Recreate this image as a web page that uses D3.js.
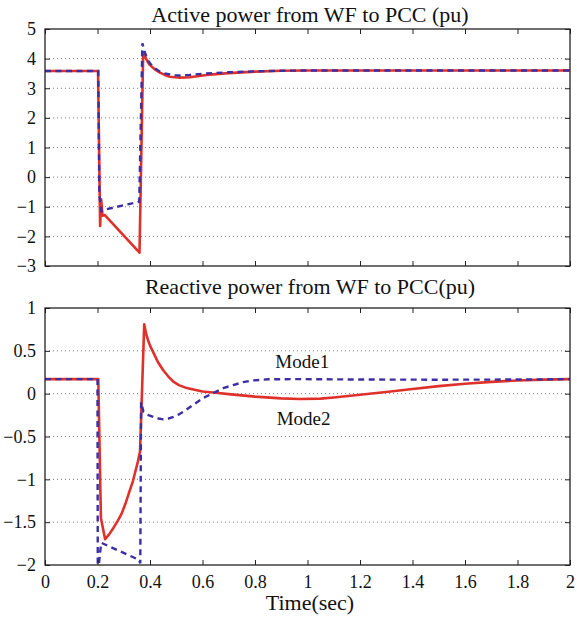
<!DOCTYPE html>
<html>
<head>
<meta charset="utf-8">
<script src="https://cdnjs.cloudflare.com/ajax/libs/d3/7.8.5/d3.min.js"></script>
<style>
  body { margin: 0; background: #fff; }
  svg text { font-family: "Liberation Serif", "Times New Roman", serif !important; fill: #111; }
  .grid line { stroke: #777; stroke-dasharray: 1 3; stroke-width: 1; }
</style>
</head>
<body>
<div id="chart"></div>
<script>
// time axis ticks and series (time in sec, value in pu)
const timeTicks = [0, 0.2, 0.4, 0.6, 0.8, 1, 1.2, 1.4, 1.6, 1.8, 2];

// Active power - Mode1 (blue dashed)
const pMode1T = [0, 0.2, 0.203, 0.207, 0.215, 0.225, 0.359, 0.371, 0.378, 0.385, 0.392, 0.4, 0.418, 0.438, 0.456, 0.476, 0.495, 0.514, 0.552, 0.616, 0.7, 0.8, 0.9, 1.0, 1.5, 2.0];
const pMode1V = [3.58, 3.58, 3.58, -0.6, -1.15, -1.1, -0.83, 4.52, 4.28, 4.1, 3.95, 3.84, 3.68, 3.56, 3.5, 3.47, 3.44, 3.43, 3.45, 3.5, 3.54, 3.57, 3.59, 3.6, 3.6, 3.6];

// Active power - Mode2 (red solid)
const pMode2T = [0, 0.2, 0.202, 0.21, 0.214, 0.219, 0.228, 0.36, 0.374, 0.38, 0.385, 0.392, 0.4, 0.418, 0.438, 0.456, 0.476, 0.495, 0.514, 0.552, 0.616, 0.7, 0.8, 0.9, 1.0, 1.5, 2.0];
const pMode2V = [3.58, 3.58, 3.58, -1.65, -0.75, -1.3, -1.28, -2.55, 4.2, 4.08, 4.0, 3.88, 3.78, 3.64, 3.53, 3.45, 3.39, 3.37, 3.36, 3.37, 3.45, 3.51, 3.56, 3.59, 3.6, 3.6, 3.6];

// Reactive power - Mode1 (blue dashed)
const qMode1T = [0, 0.2, 0.201, 0.205, 0.214, 0.358, 0.363, 0.366, 0.375, 0.394, 0.413, 0.432, 0.451, 0.47, 0.489, 0.508, 0.527, 0.546, 0.565, 0.603, 0.641, 0.679, 0.717, 0.755, 0.794, 0.85, 0.97, 1.2, 1.5, 1.8, 2.0];
const qMode1V = [0.17, 0.17, -2.0, -2.0, -1.74, -1.94, -1.98, -0.1, -0.21, -0.25, -0.27, -0.29, -0.3, -0.29, -0.27, -0.245, -0.21, -0.17, -0.13, -0.05, 0.007, 0.065, 0.1, 0.135, 0.155, 0.168, 0.17, 0.165, 0.163, 0.165, 0.17];

// Reactive power - Mode2 (red solid)
const qMode2T = [0, 0.2, 0.203, 0.213, 0.229, 0.245, 0.26, 0.276, 0.292, 0.308, 0.324, 0.335, 0.345, 0.354, 0.362, 0.378, 0.385, 0.392, 0.4, 0.413, 0.43, 0.451, 0.47, 0.489, 0.51, 0.54, 0.57, 0.6, 0.65, 0.7, 0.8, 0.9, 0.97, 1.05, 1.1, 1.2, 1.3, 1.4, 1.5, 1.6, 1.7, 1.8, 1.9, 2.0];
const qMode2V = [0.17, 0.17, 0.17, -1.45, -1.7, -1.64, -1.57, -1.49, -1.4, -1.27, -1.12, -1.02, -0.9, -0.79, -0.675, 0.81, 0.70, 0.63, 0.56, 0.48, 0.37, 0.27, 0.2, 0.14, 0.1, 0.065, 0.045, 0.025, 0.01, -0.005, -0.035, -0.055, -0.063, -0.058, -0.045, -0.013, 0.02, 0.054, 0.088, 0.116, 0.138, 0.154, 0.164, 0.17];

const pTicks = [-3, -2, -1, 0, 1, 2, 3, 4, 5];
const qTicks = [-2, -1.5, -1, -0.5, 0, 0.5, 1];

const W = 577, H = 617;
const left = 45, right = 570;

const svg = d3.select("#chart").append("svg")
    .attr("width", W).attr("height", H);

const x = d3.scaleLinear().domain([0, 2]).range([left, right]);

const zip = (ts, vs) => ts.map((t, i) => ({ t: t, v: vs[i] }));

function panel(opts) {
    const y = d3.scaleLinear().domain(opts.domain).range([opts.bottom, opts.top]);
    const g = svg.append("g");
    const h = opts.bottom - opts.top;

    // dotted grid
    g.append("g").attr("class", "grid")
        .selectAll("line")
        .data(opts.ticks.filter(d => d > opts.domain[0] && d < opts.domain[1]))
        .join("line")
        .attr("x1", left).attr("x2", right)
        .attr("y1", d => y(d)).attr("y2", d => y(d));

    const clipId = "clip" + opts.id;
    svg.append("clipPath").attr("id", clipId)
        .append("rect").attr("x", left).attr("y", opts.top - 1)
        .attr("width", right - left).attr("height", h + 2);

    const line = d3.line().x(d => x(d.t)).y(d => y(d.v));
    const lines = g.append("g").attr("clip-path", `url(#${clipId})`);

    lines.append("path").datum(opts.mode2)
        .attr("d", line).attr("fill", "none")
        .attr("stroke", "#e0302a").attr("stroke-width", 2.6)
        .attr("stroke-linejoin", "round");

    lines.append("path").datum(opts.mode1)
        .attr("d", line).attr("fill", "none")
        .attr("stroke", "#3b2fa3").attr("stroke-width", 2.4)
        .attr("stroke-dasharray", "6 4.5");

    // axes with inward ticks
    const axL = g.append("g").attr("transform", `translate(${left},0)`)
        .call(d3.axisLeft(y).tickValues(opts.ticks).tickSize(-5).tickPadding(9).tickFormat(d3.format("")));
    const axR = g.append("g").attr("transform", `translate(${right},0)`)
        .call(d3.axisRight(y).tickValues(opts.ticks).tickSize(-5).tickFormat(""));
    const axT = g.append("g").attr("transform", `translate(0,${opts.top})`)
        .call(d3.axisTop(x).tickValues(timeTicks).tickSize(-5).tickFormat(""));
    const axB = g.append("g").attr("transform", `translate(0,${opts.bottom})`)
        .call(d3.axisBottom(x).tickValues(timeTicks).tickSize(-5).tickPadding(10)
            .tickFormat(opts.xLabels ? d3.format("") : ""));

    [axL, axR, axT, axB].forEach(a => {
        a.attr("font-family", null);
        a.select(".domain").remove();
        a.selectAll("line").attr("stroke", "#222");
        a.selectAll("text").attr("font-size", 18).attr("fill", "#111");
    });

    g.append("rect").attr("x", left).attr("y", opts.top)
        .attr("width", right - left).attr("height", h)
        .attr("fill", "none").attr("stroke", "#222").attr("stroke-width", 1.3);

    g.append("text").attr("x", 310).attr("y", opts.titleY)
        .attr("text-anchor", "middle").attr("font-size", 22)
        .text(opts.title);
    return y;
}

panel({
    id: "p", top: 29, bottom: 266, domain: [-3, 5], ticks: pTicks,
    mode1: zip(pMode1T, pMode1V), mode2: zip(pMode2T, pMode2V),
    title: "Active power from WF to PCC (pu)", titleY: 22, xLabels: false
});

const yq = panel({
    id: "q", top: 308, bottom: 565, domain: [-2, 1], ticks: qTicks,
    mode1: zip(qMode1T, qMode1V), mode2: zip(qMode2T, qMode2V),
    title: "Reactive power from WF to PCC(pu)", titleY: 294, xLabels: true
});

svg.append("text").attr("x", x(0.98)).attr("y", yq(0.30))
    .attr("text-anchor", "middle").attr("font-size", 19).text("Mode1");
svg.append("text").attr("x", x(0.985)).attr("y", yq(-0.36))
    .attr("text-anchor", "middle").attr("font-size", 19).text("Mode2");

svg.append("text").attr("x", 310).attr("y", 610)
    .attr("text-anchor", "middle").attr("font-size", 22).text("Time(sec)");
</script>
</body>
</html>
